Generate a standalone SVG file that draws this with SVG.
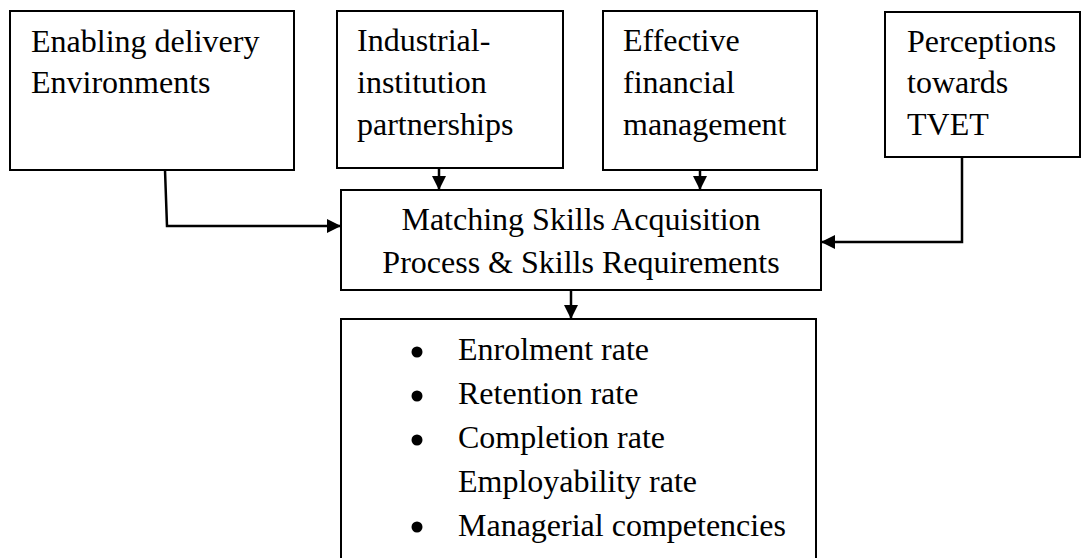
<svg xmlns="http://www.w3.org/2000/svg" width="1081" height="558" viewBox="0 0 1081 558">
<defs>
<style>
.box{fill:#fff;stroke:#000;stroke-width:2}
.t{font-family:"Liberation Serif","Times New Roman",serif;font-size:32px;fill:#000}
.c{text-anchor:middle}
.ln{fill:none;stroke:#000;stroke-width:2.5}
</style>
<marker id="ah" markerWidth="14" markerHeight="14" viewBox="0 0 14 14" refX="14" refY="7" orient="auto" markerUnits="userSpaceOnUse">
<path d="M0,0 L14,7 L0,14 Z" fill="#000"/>
</marker>
</defs>
<rect width="1081" height="558" fill="#fff"/>
<g id="n1">
<rect class="box" x="10" y="11" width="284" height="159"/>
<text class="t" x="31" y="52">Enabling delivery</text>
<text class="t" x="31" y="93">Environments</text>
</g>
<g id="n2">
<rect class="box" x="337" y="11" width="226" height="157"/>
<text class="t" x="357" y="51">Industrial-</text>
<text class="t" x="357" y="93">institution</text>
<text class="t" x="357" y="135">partnerships</text>
</g>
<g id="n3">
<rect class="box" x="603" y="11" width="214" height="159"/>
<text class="t" x="623" y="51">Effective</text>
<text class="t" x="623" y="93">financial</text>
<text class="t" x="623" y="135">management</text>
</g>
<g id="n4">
<rect class="box" x="885" y="12" width="195" height="145"/>
<text class="t" x="907" y="52">Perceptions</text>
<text class="t" x="907" y="93">towards</text>
<text class="t" x="907" y="135">TVET</text>
</g>
<g id="center">
<rect class="box" x="341" y="190" width="480" height="100"/>
<text class="t c" x="581" y="230">Matching Skills Acquisition</text>
<text class="t c" x="581" y="273">Process &amp; Skills Requirements</text>
</g>
<g id="outcomes">
<rect class="box" x="341" y="319" width="475" height="250"/>
<circle cx="417" cy="352" r="5.5"/>
<circle cx="417" cy="396" r="5.5"/>
<circle cx="417" cy="440" r="5.5"/>
<circle cx="417" cy="527" r="5.5"/>
<text class="t" x="458" y="360">Enrolment rate</text>
<text class="t" x="458" y="404">Retention rate</text>
<text class="t" x="458" y="448">Completion rate</text>
<text class="t" x="458" y="492">Employability rate</text>
<text class="t" x="458" y="536">Managerial competencies</text>
</g>
<g id="connectors">
<path class="ln" d="M165,170 L167,226 L341,226" marker-end="url(#ah)"/>
<path class="ln" d="M439,168 L439,190" marker-end="url(#ah)"/>
<path class="ln" d="M700,170 L700,190" marker-end="url(#ah)"/>
<path class="ln" d="M962,157 L962,242 L821,242" marker-end="url(#ah)"/>
<path class="ln" d="M571,290 L571,319" marker-end="url(#ah)"/>
</g>
</svg>
